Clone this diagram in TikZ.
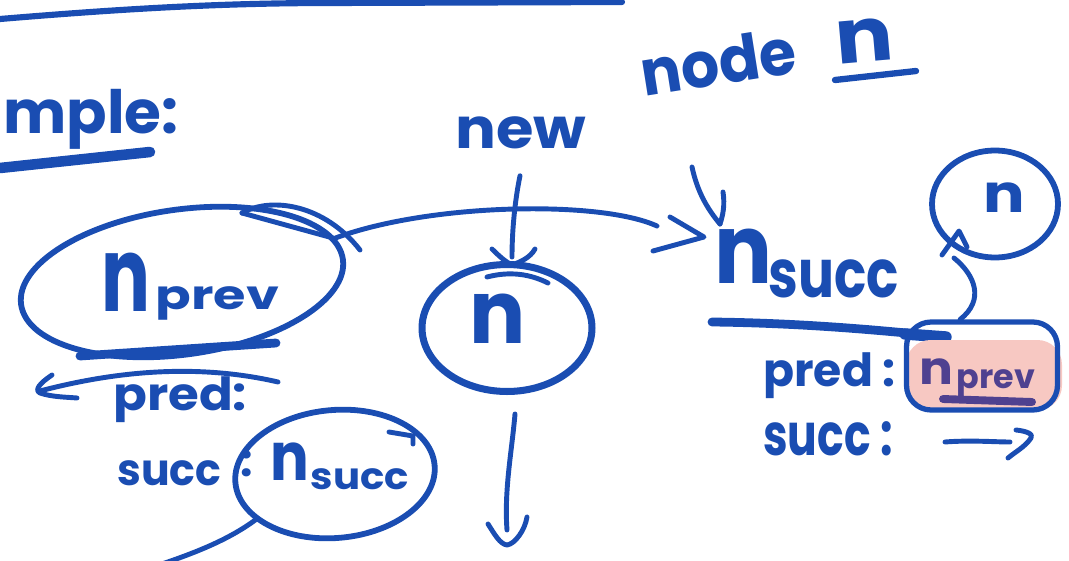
\documentclass[tikz,border=0pt]{standalone}
\usepackage{graphicx}
\usepackage{fontspec}
\setmainfont{Poppins}
\usetikzlibrary{shapes.geometric,calc}
\definecolor{ink}{RGB}{26,77,178}
\definecolor{marker}{RGB}{247,200,194}
\definecolor{inkmark}{RGB}{79,65,144}
% handwriting-like text: size (pt), horizontal squeeze, text
\newcommand{\hw}[3]{\scalebox{#2}[1]{\fontsize{#1}{#1}\selectfont #3}}
\begin{document}
\begin{tikzpicture}[x=0.02cm,y=-0.02cm,
  ink/.style={draw=ink,line width=2.8pt,line cap=round,line join=round},
  ring/.style={ellipse,draw=ink,line width=3.3pt,inner sep=0pt},
  hand/.style={text=ink,inner sep=0pt,font=\bfseries}]
\useasboundingbox (0,0) rectangle (1069,561);

% heading rule and the "example" heading
\draw[ink,line width=3.5pt] (0,19) .. controls (120,9) and (220,3) .. (330,3) -- (622,2);
\node[hand,anchor=base west] (mple) at (3,133) {\hw{34}{1}{mple:}};
\draw[ink,line width=6pt] (0,168) -- (150,152);

% labels above
\node[hand,anchor=base] (neww) at (521,148) {\hw{32}{1.08}{new}};
\node[hand,anchor=base west,rotate=9] (nodew) at (644,97) {\hw{36}{0.95}{node}};
\node[hand,anchor=base,rotate=5] (nname) at (866,62) {\hw{43}{1.14}{n}};
\draw[ink,line width=3.6pt] (835,80) -- (916,71);

% left: the node n_prev
\node[ring,minimum width=6.5cm,minimum height=2.9cm,rotate=8] (prevring) at (182,282) {};
\node[hand,anchor=base west] (prevlbl) at (101,311)
  {\hw{59}{0.7}{n}\hspace{3pt}\raisebox{1pt}{\hw{23}{1.3}{prev}}};
\draw[ink,line width=5pt] (80,356) -- (276,343);
\draw[ink] (242,213) .. controls (272,196) and (325,205) .. (360,250);
\draw[ink] (242,213) -- (333,238);

% its pred pointer
\draw[ink] (278,382) .. controls (200,364) and (120,370) .. (40,391);
\draw[ink] (52,375) .. controls (40,383) and (34,390) .. (40,393)
  .. controls (52,397) and (65,397) .. (77,398);
\node[hand,anchor=base west] (predL) at (113,410) {\hw{26}{1.09}{pred:}};

% its succ field
\node[hand,anchor=base west] (succL) at (117,485) {\hw{25}{0.97}{succ}};
\node[hand,anchor=base] (succcolon) at (247,476) {\hw{25}{1}{:}};
\node[ring,minimum width=4cm,minimum height=2.56cm,rotate=5] (succring) at (335,474) {};
\node[hand,anchor=base west] (succlbl) at (270,480)
  {\hw{38}{0.86}{n}\hspace{1pt}\raisebox{-5.5pt}{\hw{21}{1.09}{succ}}};
\draw[ink] (389,432) -- (413,436) -- (413,444);
\coordinate (lowexit) at (156,566);
\draw[ink] (succring.205) .. controls (228,540) and (195,553) .. (lowexit);

% middle: the new node n
\node[ring,line width=4pt,minimum width=3.4cm,minimum height=2.54cm] (nring) at (507,328) {};
\node[hand,anchor=base] (nlbl) at (498,343) {\hw{50}{0.95}{n}};
\coordinate (newtip) at (512,265);
\draw[ink] ($(neww.south)+(-1,27)$) .. controls (515,200) and (512,230) .. (512,257);
\draw[ink] (492,249) .. controls (500,257) and (506,262) .. (newtip)
  .. controls (520,262) and (530,258) .. (535,249);
\draw[ink] (487,277) .. controls (510,271) and (530,274) .. (548,283);
\coordinate (downtip) at (507,545);
\draw[ink] ($(nring.south)+(8,19)$) .. controls (512,450) and (504,490) .. (507,530);
\draw[ink] (488,524) .. controls (495,535) and (500,544) .. (downtip)
  .. controls (515,544) and (525,530) .. (527,517);

% arrow from n_prev across to n_succ
\coordinate (acrossend) at (657,226);
\coordinate (succtip) at (704,237);
\draw[ink] (prevring.8) .. controls (430,203) and (600,200) .. (acrossend);
\draw[ink] (670,217) -- (succtip) -- (653,251);

% right: the node n_succ
\node[hand,anchor=base west] (succR) at (714,283)
  {\hw{55}{0.89}{n}\hspace{-2pt}\raisebox{-8pt}{\hw{38}{0.8}{succ}}};
\coordinate (nodetip) at (720,224);
\draw[ink] (692,167) .. controls (698,195) and (710,212) .. (nodetip);
\draw[ink] (723,192) .. controls (725,205) and (723,215) .. (nodetip);
\draw[ink,line width=5pt] (712,322) .. controls (800,323) and (880,330) .. (946,337);
\draw[ink,line width=6.5pt] (905,334) -- (946,337);

% its fields
\node[hand,anchor=base west] (predR) at (763,386) {\hw{26}{1}{pred :}};
\node[hand,anchor=base west] (succF) at (763,455) {\hw{33}{0.76}{succ :}};
\fill[marker,rounded corners=14pt] (906,340) rectangle (1062,410);
\node[draw=ink,line width=3pt,rounded corners=14pt,minimum width=3.02cm,minimum height=1.76cm,inner sep=0pt]
  (predbox) at (982,366) {};
\node[text=inkmark,font=\bfseries,inner sep=0pt,anchor=base west] (prevR) at (919,384)
  {\hw{26}{1.1}{n}\hspace{2pt}\raisebox{-2.5pt}{\hw{19}{1}{prev}}};
\draw[inkmark,line width=4.5pt,line cap=round] (943,399) -- (1032,402);

% succ pointer on the right
\coordinate (sarrowtip) at (1031,438);
\draw[ink] (945,442) .. controls (970,440) and (995,442) .. (1010,442);
\draw[ink] (1016,430) .. controls (1026,431) and (1034,434) .. (sarrowtip)
  .. controls (1025,447) and (1015,452) .. (1008,458);

% the new node n linked from the pred field
\node[ring,minimum width=2.52cm,minimum height=2.14cm] (topring) at (995,204) {};
\node[hand,anchor=base] (toplbl) at (1004,212) {\hw{30}{1.17}{n}};
\coordinate (uptip) at (959,231);
\draw[ink] ($(predbox.north west)!0.36!(predbox.north east)$)
  .. controls (985,300) and (975,275) .. (954,258);
\draw[ink] (942,255) -- (uptip) -- (967,247);
\end{tikzpicture}
\end{document}
